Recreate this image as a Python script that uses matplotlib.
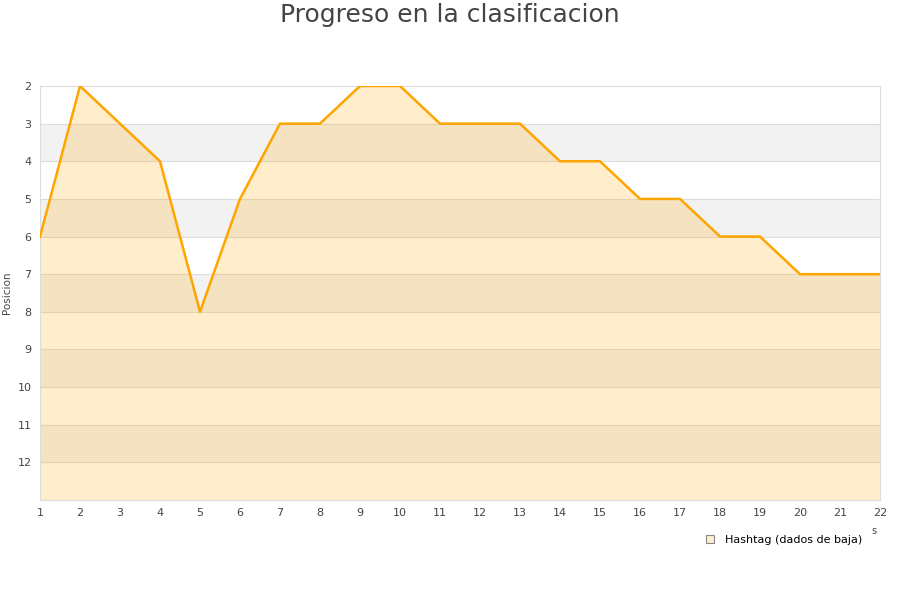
import matplotlib as mpl
import matplotlib.pyplot as plt
from matplotlib.lines import Line2D

mpl.rcParams['font.family'] = 'DejaVu Sans'

jornadas = list(range(1, 23))
posicion = [6, 2, 3, 4, 8, 5, 3, 3, 2, 2, 3, 3, 3, 4, 4, 5, 5, 6, 6, 7, 7, 7]
serie = 'Hashtag (dados de baja)'
titulo = 'Progreso en la clasificacion'

fig = plt.figure(figsize=(9, 6), dpi=100)
ax = fig.add_axes([40 / 900, 1 - 500 / 600, 840 / 900, 414 / 600])

ax.set_xlim(1, 22)
ax.set_ylim(13, 2)

# franjas alternas
for y in range(3, 13, 2):
    ax.axhspan(y, y + 1, color='#f2f2f2', lw=0, zorder=0)
for y in range(3, 13):
    ax.axhline(y, color='#dddddd', lw=0.8, zorder=1)

ax.fill_between(jornadas, posicion, 13, color='#ffa500', alpha=0.2, lw=0, zorder=2)
ax.plot(jornadas, posicion, color='#ffa500', lw=1.8, zorder=3)

ax.set_xticks(jornadas)
ax.set_yticks(range(2, 13))
ax.tick_params(length=0, labelsize=8, colors='#444444', pad=6)
for s in ax.spines.values():
    s.set_color('#dddddd')
ax.set_ylabel('Posicion', fontsize=7.5, color='#444444', labelpad=4)

fig.text(0.5, 0.995, titulo, ha='center', va='top', fontsize=18, color='#444444')
fig.text(874 / 900, 1 - 531 / 600, 's', ha='center', va='center', fontsize=7, color='#444444')

h = Line2D([], [], marker='s', ls='', markersize=6, markerfacecolor='#ffedcc',
           markeredgecolor='#888888', markeredgewidth=0.8)
fig.legend([h], [serie], loc='center right', bbox_to_anchor=(868 / 900, 1 - 540 / 600),
           frameon=False, fontsize=8, handletextpad=0.4, borderpad=0)

fig.savefig('out.png', dpi=100)
